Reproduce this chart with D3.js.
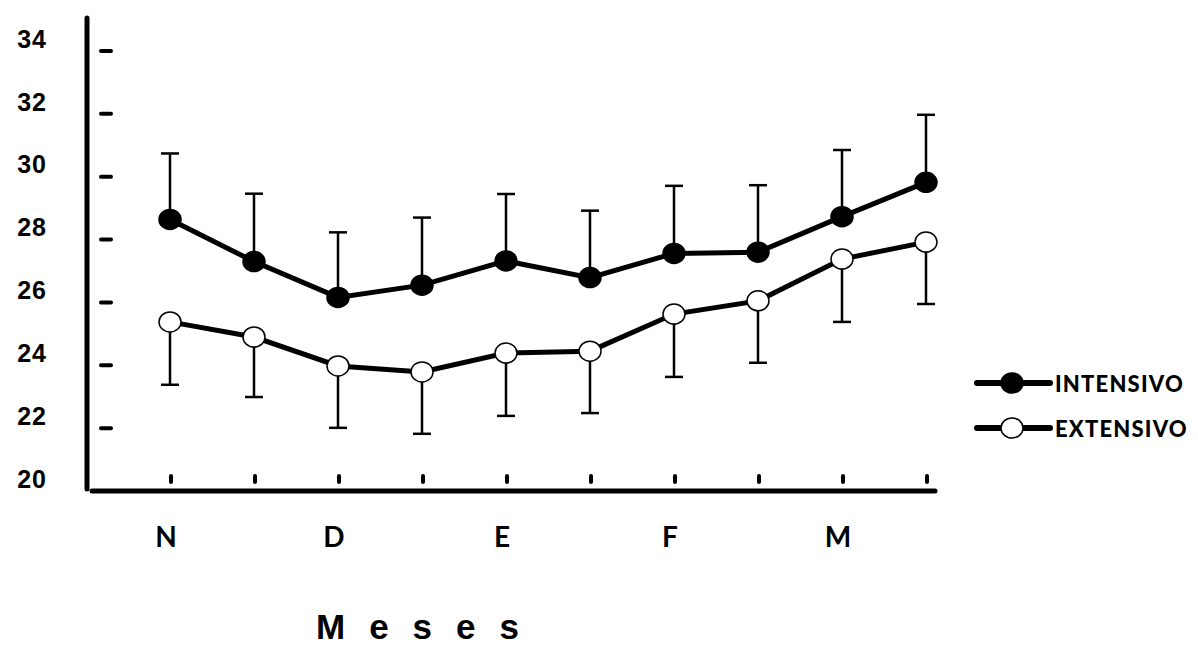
<!DOCTYPE html>
<html>
<head>
<meta charset="utf-8">
<script src="https://cdn.jsdelivr.net/npm/d3@7"></script>
<style>
  body { margin: 0; background: #fff; }
</style>
</head>
<body>
<div id="chart-area"></div>
<script>
// Data
// ****
const points = [0, 1, 2, 3, 4, 5, 6, 7, 8, 9]
const monthLabels = ["N", "", "D", "", "E", "", "F", "", "M", ""]
const intensivo = [28.64, 27.30, 26.16, 26.55, 27.32, 26.79, 27.56, 27.60, 28.73, 29.82]
const intensivoErr = [2.10, 2.16, 2.07, 2.15, 2.13, 2.13, 2.15, 2.13, 2.12, 2.15]
const extensivo = [25.38, 24.90, 23.98, 23.79, 24.39, 24.45, 25.63, 26.05, 27.38, 27.92]
const extensivoErr = [2.00, 1.91, 1.97, 1.97, 2.00, 1.97, 2.00, 1.97, 2.00, 1.97]
const yTicks = [20, 22, 24, 26, 28, 30, 32, 34]
const seriesNames = ["INTENSIVO", "EXTENSIVO"]

// Config
// ******
const width = 1198, height = 647

const svg = d3.select("#chart-area")
  .append("svg")
    .attr("width", width)
    .attr("height", height)

const x = d3.scaleLinear().domain([0, 9]).range([170, 926])
const y = d3.scaleLinear().domain([20, 34]).range([491, 51])

// Axes
svg.append("line")
  .attr("x1", 87).attr("x2", 87)
  .attr("y1", 18).attr("y2", 489)
  .attr("stroke", "#000").attr("stroke-width", 5).attr("stroke-linecap", "round")

svg.append("line")
  .attr("x1", 92).attr("x2", 935)
  .attr("y1", y(20)).attr("y2", y(20))
  .attr("stroke", "#000").attr("stroke-width", 5).attr("stroke-linecap", "round")

// Y tick dashes and labels
svg.selectAll(".ytick").data(yTicks.filter(d => d > 20)).enter().append("line")
  .attr("class", "ytick")
  .attr("x1", 101).attr("x2", 111)
  .attr("y1", d => y(d)).attr("y2", d => y(d))
  .attr("stroke", "#000").attr("stroke-width", 4).attr("stroke-linecap", "round")

svg.selectAll(".ylabel").data(yTicks).enter().append("text")
  .attr("class", "ylabel")
  .attr("x", 47)
  .attr("y", d => y(d) - 12)
  .attr("dy", "0.35em")
  .attr("text-anchor", "end")
  .attr("font-family", "Liberation Sans, Arial, sans-serif")
  .attr("font-weight", "bold")
  .attr("font-size", "25px")
  .style("letter-spacing", "1px")
  .text(d => d)

// X tick dashes and labels
svg.selectAll(".xtick").data(points).enter().append("line")
  .attr("class", "xtick")
  .attr("x1", d => x(d) + 1).attr("x2", d => x(d) + 1)
  .attr("y1", 476).attr("y2", 482)
  .attr("stroke", "#000").attr("stroke-width", 4).attr("stroke-linecap", "round")

svg.selectAll(".xlabel").data(points).enter().append("text")
  .attr("class", "xlabel")
  .attr("x", d => x(d) - 4)
  .attr("y", 537)
  .attr("dy", "0.35em")
  .attr("text-anchor", "middle")
  .attr("font-family", "Lato, sans-serif")
  .attr("font-weight", "bold")
  .attr("font-size", "28px")
  .text(d => monthLabels[d])

svg.append("text")
  .attr("x", 316)
  .attr("y", 639)
  .attr("font-family", "Liberation Sans, Arial, sans-serif")
  .attr("font-weight", "bold")
  .attr("font-size", "35px")
  .style("letter-spacing", "24px")
  .text("Meses")

// Series
// ******
const line = d3.line().x(d => x(d[0])).y(d => y(d[1]))

function drawSeries(values, errs, filled, up) {
  const grp = svg.append("g")
  const capW = 9
  // error bars
  points.forEach(i => {
    const v = values[i], end = up ? v + errs[i] : v - errs[i]
    grp.append("line")
      .attr("x1", x(i)).attr("x2", x(i))
      .attr("y1", y(v)).attr("y2", y(end))
      .attr("stroke", "#000").attr("stroke-width", 2.5)
    grp.append("line")
      .attr("x1", x(i) - capW).attr("x2", x(i) + capW)
      .attr("y1", y(end)).attr("y2", y(end))
      .attr("stroke", "#000").attr("stroke-width", 2.5)
  })
  grp.append("path")
    .datum(points.map(i => [i, values[i]]))
    .attr("d", line)
    .attr("fill", "none")
    .attr("stroke", "#000")
    .attr("stroke-width", 5)
  grp.selectAll("ellipse").data(points).enter().append("ellipse")
    .attr("cx", d => x(d))
    .attr("cy", d => y(values[d]))
    .attr("rx", 11).attr("ry", 10)
    .attr("fill", filled ? "#000" : "#fff")
    .attr("stroke", "#000")
    .attr("stroke-width", 1.5)
}

drawSeries(intensivo, intensivoErr, true, true)
drawSeries(extensivo, extensivoErr, false, false)

// Legend
// ******
const legend = svg.append("g")
seriesNames.forEach((name, i) => {
  const row = legend.append("g").attr("transform", "translate(0, " + (383 + i * 45) + ")")
  row.append("line")
    .attr("x1", 977).attr("x2", 1050)
    .attr("y1", 0).attr("y2", 0)
    .attr("stroke", "#000").attr("stroke-width", 6).attr("stroke-linecap", "round")
  row.append("ellipse")
    .attr("cx", 1012).attr("cy", 0)
    .attr("rx", 11).attr("ry", 10)
    .attr("fill", i === 0 ? "#000" : "#fff")
    .attr("stroke", "#000").attr("stroke-width", 1.5)
  row.append("text")
    .attr("x", 1055)
    .attr("y", 1)
    .attr("dy", "0.35em")
    .attr("font-family", "Lato, sans-serif")
    .attr("font-weight", "900")
    .attr("font-size", "22px")
    .style("letter-spacing", "1.2px")
    .text(name)
})
</script>
</body>
</html>
